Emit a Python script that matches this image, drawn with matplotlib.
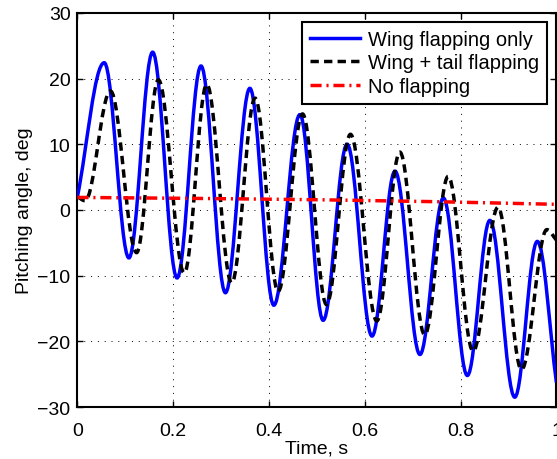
import matplotlib.pyplot as plt
from matplotlib.path import Path
from matplotlib.patches import PathPatch
import numpy as np

plt.rcParams['font.family'] = ['Liberation Sans', 'DejaVu Sans']

# turning points (time in s, angle in deg)
wing_t = [0.0, 0.056, 0.1075, 0.157, 0.208, 0.258, 0.309, 0.360, 0.410, 0.4645,
          0.513, 0.563, 0.615, 0.663, 0.715, 0.764, 0.814, 0.861, 0.913, 0.960, 1.0]
wing_y = [2.0, 22.4, -7.3, 24.0, -10.35, 21.9, -12.6, 18.5, -14.5, 14.5,
          -16.8, 10.0, -19.2, 5.9, -22.0, 1.8, -25.2, -1.6, -28.5, -4.8, -26.3]

tail_t = [0.0, 0.016, 0.069, 0.1235, 0.169, 0.223, 0.270, 0.322, 0.371, 0.419,
          0.470, 0.520, 0.570, 0.625, 0.673, 0.725, 0.774, 0.826, 0.878, 0.927, 0.980, 1.0]
tail_y = [2.0, 1.4, 18.1, -6.5, 19.8, -9.6, 19.1, -11.1, 17.0, -12.4,
          14.6, -14.4, 11.5, -16.9, 8.8, -19.0, 5.1, -21.5, 0.4, -24.3, -3.0, -4.6]

none_t = [0.0, 0.25, 0.5, 0.75, 1.0]
none_y = [1.9, 1.75, 1.55, 1.25, 0.85]


def smoothPath(ts, ys):
    '''
    Builds a Bezier path through the turning points, flat at every
    interior point, following the secant at the two ends.
    '''
    n = len(ts)
    slopes = [0.0] * n
    slopes[0] = (ys[1] - ys[0]) / (ts[1] - ts[0])
    slopes[-1] = (ys[-1] - ys[-2]) / (ts[-1] - ts[-2])
    verts = [(ts[0], ys[0])]
    codes = [Path.MOVETO]
    for i in range(n - 1):
        c = 0.364 * (ts[i + 1] - ts[i])
        verts += [(ts[i] + c, ys[i] + slopes[i] * c),
                  (ts[i + 1] - c, ys[i + 1] - slopes[i + 1] * c),
                  (ts[i + 1], ys[i + 1])]
        codes += [Path.CURVE4] * 3
    return Path(verts, codes)


fig = plt.figure(figsize=(5.57, 4.60), dpi=100)
ax = fig.add_axes([0.139, 0.113, 0.860, 0.857])

lw = 2.5
dash = (0, (2.4, 1.5))
dashdot = (0, (3.2, 1.4, 0.6, 1.4))
ax.add_patch(PathPatch(smoothPath(wing_t, wing_y), facecolor='none',
                       edgecolor='#0000ff', lw=lw, zorder=3))
ax.add_patch(PathPatch(smoothPath(tail_t, tail_y), facecolor='none',
                       edgecolor='k', lw=lw, linestyle=dash, zorder=4))
ax.plot(none_t, none_y, color='#ff0000', lw=lw, linestyle=dashdot, zorder=5)

# legend proxies
ax.plot([], [], color='#0000ff', lw=lw, label='Wing flapping only')
ax.plot([], [], color='k', lw=lw, linestyle=dash, label='Wing + tail flapping')
ax.plot([], [], color='#ff0000', lw=lw, linestyle=dashdot, label='No flapping')

ax.set_xlim(0, 1)
ax.set_ylim(-30, 30)
ax.set_xticks([0, 0.2, 0.4, 0.6, 0.8, 1])
ax.set_xticklabels(['0', '0.2', '0.4', '0.6', '0.8', '1'])
ax.set_yticks(np.arange(-30, 31, 10))
ax.grid(True, color='k', lw=0.7, linestyle=(0, (1, 6)))
ax.tick_params(direction='in', top=True, right=True, length=4, width=1,
               labelsize=14)
ax.tick_params(axis='x', pad=11)
ax.tick_params(axis='y', pad=5)
for s in ax.spines.values():
    s.set_linewidth(1.5)

ax.set_xlabel('Time, s', fontsize=14, labelpad=0)
ax.set_ylabel('Pitching angle, deg', fontsize=14, labelpad=3)

leg = ax.legend(loc='upper right', fontsize=14.5, frameon=True, fancybox=False,
                edgecolor='k', framealpha=1, handlelength=2.5, handletextpad=0.4,
                labelspacing=0.22, borderpad=0.4, borderaxespad=0.45)
leg.get_frame().set_linewidth(1.5)

fig.savefig('out.png', dpi=100)
